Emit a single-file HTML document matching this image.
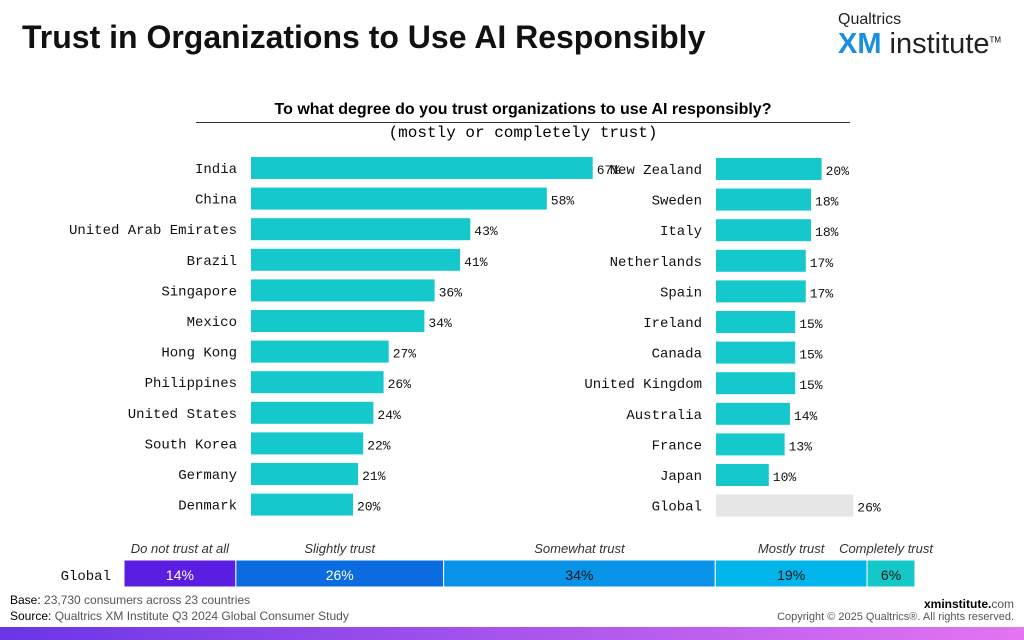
<!DOCTYPE html>
<html><head><meta charset="utf-8"><style>
body{margin:0;width:1024px;height:640px;background:#fff;position:relative;overflow:hidden;font-family:"Liberation Sans",sans-serif}
.a{position:absolute}
.mono{font-family:"Liberation Mono",monospace}
</style></head><body>
<div class="a" style="left:22px;top:19px;font-size:32px;font-weight:bold;color:#111">Trust in Organizations to Use AI Responsibly</div>
<div class="a" style="left:838px;top:12px;line-height:1">
<div style="font-size:16px;color:#222">Qualtrics</div>
<div style="font-size:29px;margin-top:2px"><b style="color:#1a8fe0">XM</b><span style="color:#222"> institute</span><sup style="font-size:8px">TM</sup></div></div>
<div class="a" style="left:196px;width:654px;top:101px;text-align:center;font-size:16px;font-weight:bold;border-bottom:1px solid #333;padding-bottom:3px">To what degree do you trust organizations to use AI responsibly?</div>
<div class="a mono" style="left:196px;width:654px;top:124px;text-align:center;font-size:16px">(mostly or completely trust)</div>
<svg class="a" id="chart" style="left:0;top:0" width="1024" height="640"></svg>
<div class="a" style="left:10px;top:593px;font-size:12px;color:#555"><b style="font-weight:normal;color:#000">Base:</b> 23,730 consumers across 23 countries</div>
<div class="a" style="left:10px;top:609px;font-size:12px;color:#555"><span style="color:#000">Source:</span> Qualtrics XM Institute Q3 2024 Global Consumer Study</div>
<div class="a" style="right:10px;top:597px;font-size:12px;font-weight:bold">xminstitute.<span style="font-weight:normal;color:#555">com</span></div>
<div class="a" style="right:10px;top:611px;font-size:11px;color:#555">Copyright © 2025 Qualtrics®. All rights reserved.</div>
<div class="a" style="left:0;top:627px;width:1024px;height:13px;background:linear-gradient(90deg,#6a35e6,#e474f2)"></div>
<script>
const leftCats=["India","China","United Arab Emirates","Brazil","Singapore","Mexico","Hong Kong","Philippines","United States","South Korea","Germany","Denmark"];
const leftVals=[67,58,43,41,36,34,27,26,24,22,21,20];
const rightCats=["New Zealand","Sweden","Italy","Netherlands","Spain","Ireland","Canada","United Kingdom","Australia","France","Japan","Global"];
const rightVals=[20,18,18,17,17,15,15,15,14,13,10,26];
const stackCats=["Do not trust at all","Slightly trust","Somewhat trust","Mostly trust","Completely trust"];
const stackVals=[14,26,34,19,6];
const svg=document.getElementById('chart');const NS="http://www.w3.org/2000/svg";
function mk(t,a,txt){const e=document.createElementNS(NS,t);for(const k in a)e.setAttribute(k,a[k]);if(txt!=null)e.textContent=txt;svg.appendChild(e);return e;}
function panel(cats,vals,x0,scale,labX,y0,tag){
 const step=30.6;
 cats.forEach((c,i)=>{const cy=y0+i*step;const w=vals[i]*scale;const g=c==="Global";
  const l=mk('text',{x:labX,y:cy+5,'text-anchor':'end','font-family':'Liberation Mono, monospace','font-size':14,fill:'#111'},c);
  
  const r=mk('rect',{x:x0,y:cy-11,width:w,height:22,fill:g?'#e6e6e6':'#14c8cc'});
  
  const v=mk('text',{x:x0+w+4,y:cy+6,'font-family':'Liberation Mono, monospace','font-size':13,fill:'#111'},vals[i]+'%');
  
 });
}
panel(leftCats,leftVals,251,5.1,237,168,'left');
panel(rightCats,rightVals,716,5.28,702,169,'right');
const cols=['#5a1de2','#0a6ce0','#0893e8','#00b5ea','#14c8c8'];
const tcol=['#fff','#fff','#111','#111','#111'];
let x=124;const sc=791/stackVals.reduce((a,b)=>a+b,0);
const gl=mk('text',{x:111,y:580,'text-anchor':'end','font-family':'Liberation Mono, monospace','font-size':14,fill:'#111'},'Global');

stackVals.forEach((v,i)=>{const w=v*sc;
 const r=mk('rect',{x:x,y:560,width:w,height:27,fill:cols[i],stroke:'#fff','stroke-width':1});
 
 const t=mk('text',{x:x+w/2,y:580,'text-anchor':'middle','font-size':14,fill:tcol[i]},v+'%');
 
 const h=mk('text',{x:i==4?x+w/2-5:x+w/2,y:553,'text-anchor':'middle','font-size':13,'font-style':'italic',fill:'#333'},stackCats[i]);
 
 x+=w;});
</script>
</body></html>
